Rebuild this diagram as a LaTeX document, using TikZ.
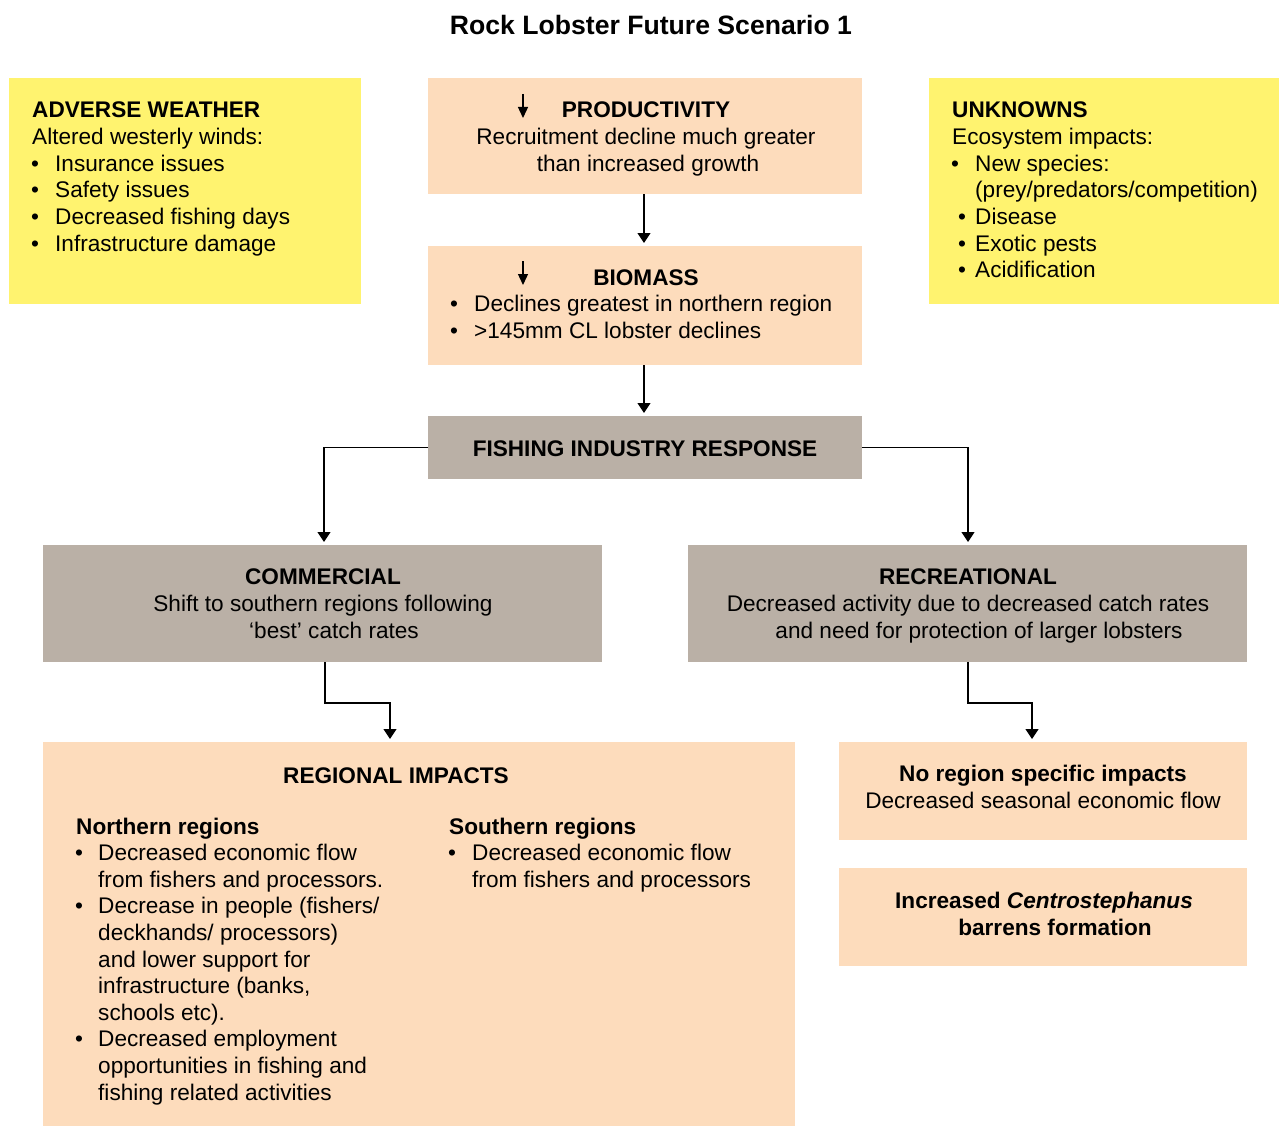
\documentclass[tikz,border=0pt]{standalone}
\usepackage{fontspec}
\setmainfont{Liberation Sans}
\usetikzlibrary{arrows.meta}
\definecolor{yel}{RGB}{255,243,111}
\definecolor{peach}{RGB}{253,220,188}
\definecolor{greybox}{RGB}{186,176,166}
\newcommand{\fs}{\fontsize{22.6}{26}\selectfont}
\begin{document}
\begin{tikzpicture}[x=1pt,y=-1pt,
  box/.style={draw=none,inner sep=0pt,anchor=north west},
  ln/.style={inner sep=0pt,anchor=base west,font=\fs},
  lnb/.style={inner sep=0pt,anchor=base west,font=\fs\bfseries},
  lc/.style={inner sep=0pt,anchor=base,font=\fs},
  lcb/.style={inner sep=0pt,anchor=base,font=\fs\bfseries},
  bl/.style={inner sep=0pt,anchor=base west,font=\fs},
  arr/.style={line width=1.2pt,-{Triangle[width=13pt,length=10pt]},shorten >=3pt},
  tiny/.style={line width=1.3pt,-{Triangle[width=10pt,length=11pt]}}]
\useasboundingbox (0,0) rectangle (1279,1126);
% title
\node[lc,font=\fontsize{26.6}{30}\selectfont\bfseries] (title) at (651,35) {Rock Lobster Future Scenario 1};
% boxes
\node[box,fill=yel,minimum width=352pt,minimum height=226pt] (adverse) at (9,78) {};
\node[box,fill=peach,minimum width=434pt,minimum height=116pt] (prod) at (428,78) {};
\node[box,fill=yel,minimum width=350pt,minimum height=226pt] (unk) at (929,78) {};
\node[box,fill=peach,minimum width=434pt,minimum height=119pt] (bio) at (428,246) {};
\node[box,fill=greybox,minimum width=434pt,minimum height=63pt] (fir) at (428,416) {};
\node[box,fill=greybox,minimum width=559pt,minimum height=117pt] (comm) at (43,545) {};
\node[box,fill=greybox,minimum width=559pt,minimum height=117pt] (rec) at (688,545) {};
\node[box,fill=peach,minimum width=752pt,minimum height=384pt] (reg) at (43,742) {};
\node[box,fill=peach,minimum width=408pt,minimum height=98pt] (nor) at (839,742) {};
\node[box,fill=peach,minimum width=408pt,minimum height=98pt] (cen) at (839,868) {};
% adverse weather
\node[lnb] (awT) at (32,118) {ADVERSE WEATHER};
\node[ln] (aw0) at (32,144.6) {Altered westerly winds:};
\foreach \t [count=\i] in {Insurance issues,Safety issues,Decreased fishing days,Infrastructure damage}{
  \node[bl] (awb\i) at (31,144.6+26.6*\i) {•};
  \node[ln] (aw\i) at (55,144.6+26.6*\i) {\t};
}
% productivity
\draw[tiny] (523,94) coordinate (pa1) -- (523,118) coordinate (pa2);
\node[lcb] (prT) at (646,118) {PRODUCTIVITY};
\node[lc] (pr1) at (646,144.6) {Recruitment decline much greater};
\node[lc] (pr2) at (648,171.2) {than increased growth};
% unknowns
\node[lnb] (ukT) at (952,118) {UNKNOWNS};
\node[ln] (uk0) at (952,144.6) {Ecosystem impacts:};
\node[bl] (ukb1) at (951,171.2) {•};
\node[ln] (uk1) at (975,171.2) {New species:};
\node[ln] (uk1b) at (975,197.8) {(prey/predators/competition)};
\foreach \t [count=\i] in {Disease,Exotic pests,Acidification}{
  \node[bl] (ukb\i x) at (958,197.8+26.6*\i) {•};
  \node[ln] (uk\i x) at (975,197.8+26.6*\i) {\t};
}
% biomass
\draw[tiny] (523,261) coordinate (ba1) -- (523,285) coordinate (ba2);
\node[lcb] (bmT) at (646,285) {BIOMASS};
\node[bl] (bmb1) at (450,311.6) {•};
\node[ln] (bm1) at (474,311.6) {Declines greatest in northern region};
\node[bl] (bmb2) at (450,338.2) {•};
\node[ln] (bm2) at (474,338.2) {>145mm CL lobster declines};
% fishing industry response
\node[lcb] (firT) at (645,456) {FISHING INDUSTRY RESPONSE};
% commercial
\node[lcb] (cmT) at (323,584) {COMMERCIAL};
\node[lc] (cm1) at (323,611) {Shift to southern regions following};
\node[lc] (cm2) at (334,638) {‘best’ catch rates};
% recreational
\node[lcb] (rcT) at (968,584) {RECREATIONAL};
\node[lc] (rc1) at (968,611) {Decreased activity due to decreased catch rates};
\node[lc] (rc2) at (979,638) {and need for protection of larger lobsters};
% regional impacts
\node[lcb] (rgT) at (396,783) {REGIONAL IMPACTS};
\node[lnb] (nrT) at (76,834) {Northern regions};
\foreach \t [count=\i] in {Decreased economic flow,from fishers and processors.,Decrease in people (fishers/,deckhands/ processors),and lower support for,{infrastructure (banks,},schools etc).,Decreased employment,opportunities in fishing and,fishing related activities}{
  \node[ln] (nr\i) at (98,834+26.6*\i) {\t};
}
\node[bl] (nrb1) at (75,860.6) {•};
\node[bl] (nrb3) at (75,913.8) {•};
\node[bl] (nrb8) at (75,1046.8) {•};
\node[lnb] (srT) at (449,834) {Southern regions};
\node[bl] (srb1) at (448,860.6) {•};
\node[ln] (sr1) at (472,860.6) {Decreased economic flow};
\node[ln] (sr2) at (472,887.2) {from fishers and processors};
% no region
\node[lcb] (noT) at (1043,781) {No region specific impacts};
\node[lc] (no1) at (1043,808) {Decreased seasonal economic flow};
% centrostephanus
\node[lcb] (ceT) at (1044,908) {Increased \textit{Centrostephanus}};
\node[lcb] (ce2) at (1055,935) {barrens formation};
% connectors
\coordinate (bendL) at (390,703);
\coordinate (bendR) at (1032,703);
\coordinate (dropL) at (324,545);
\coordinate (dropR) at (968,545);
\draw[arr] (prod.south -| 644,0) -- (bio.north -| 644,0);
\draw[arr] (bio.south -| 644,0) -- (fir.north -| 644,0);
\draw[arr] (fir.west) -| (dropL);
\draw[arr] (fir.east) -| (dropR);
\draw[arr] (comm.south -| 325,0) |- (bendL) -- (bendL |- reg.north);
\draw[arr] (rec.south -| 968,0) |- (bendR) -- (bendR |- nor.north);
\end{tikzpicture}
\end{document}
